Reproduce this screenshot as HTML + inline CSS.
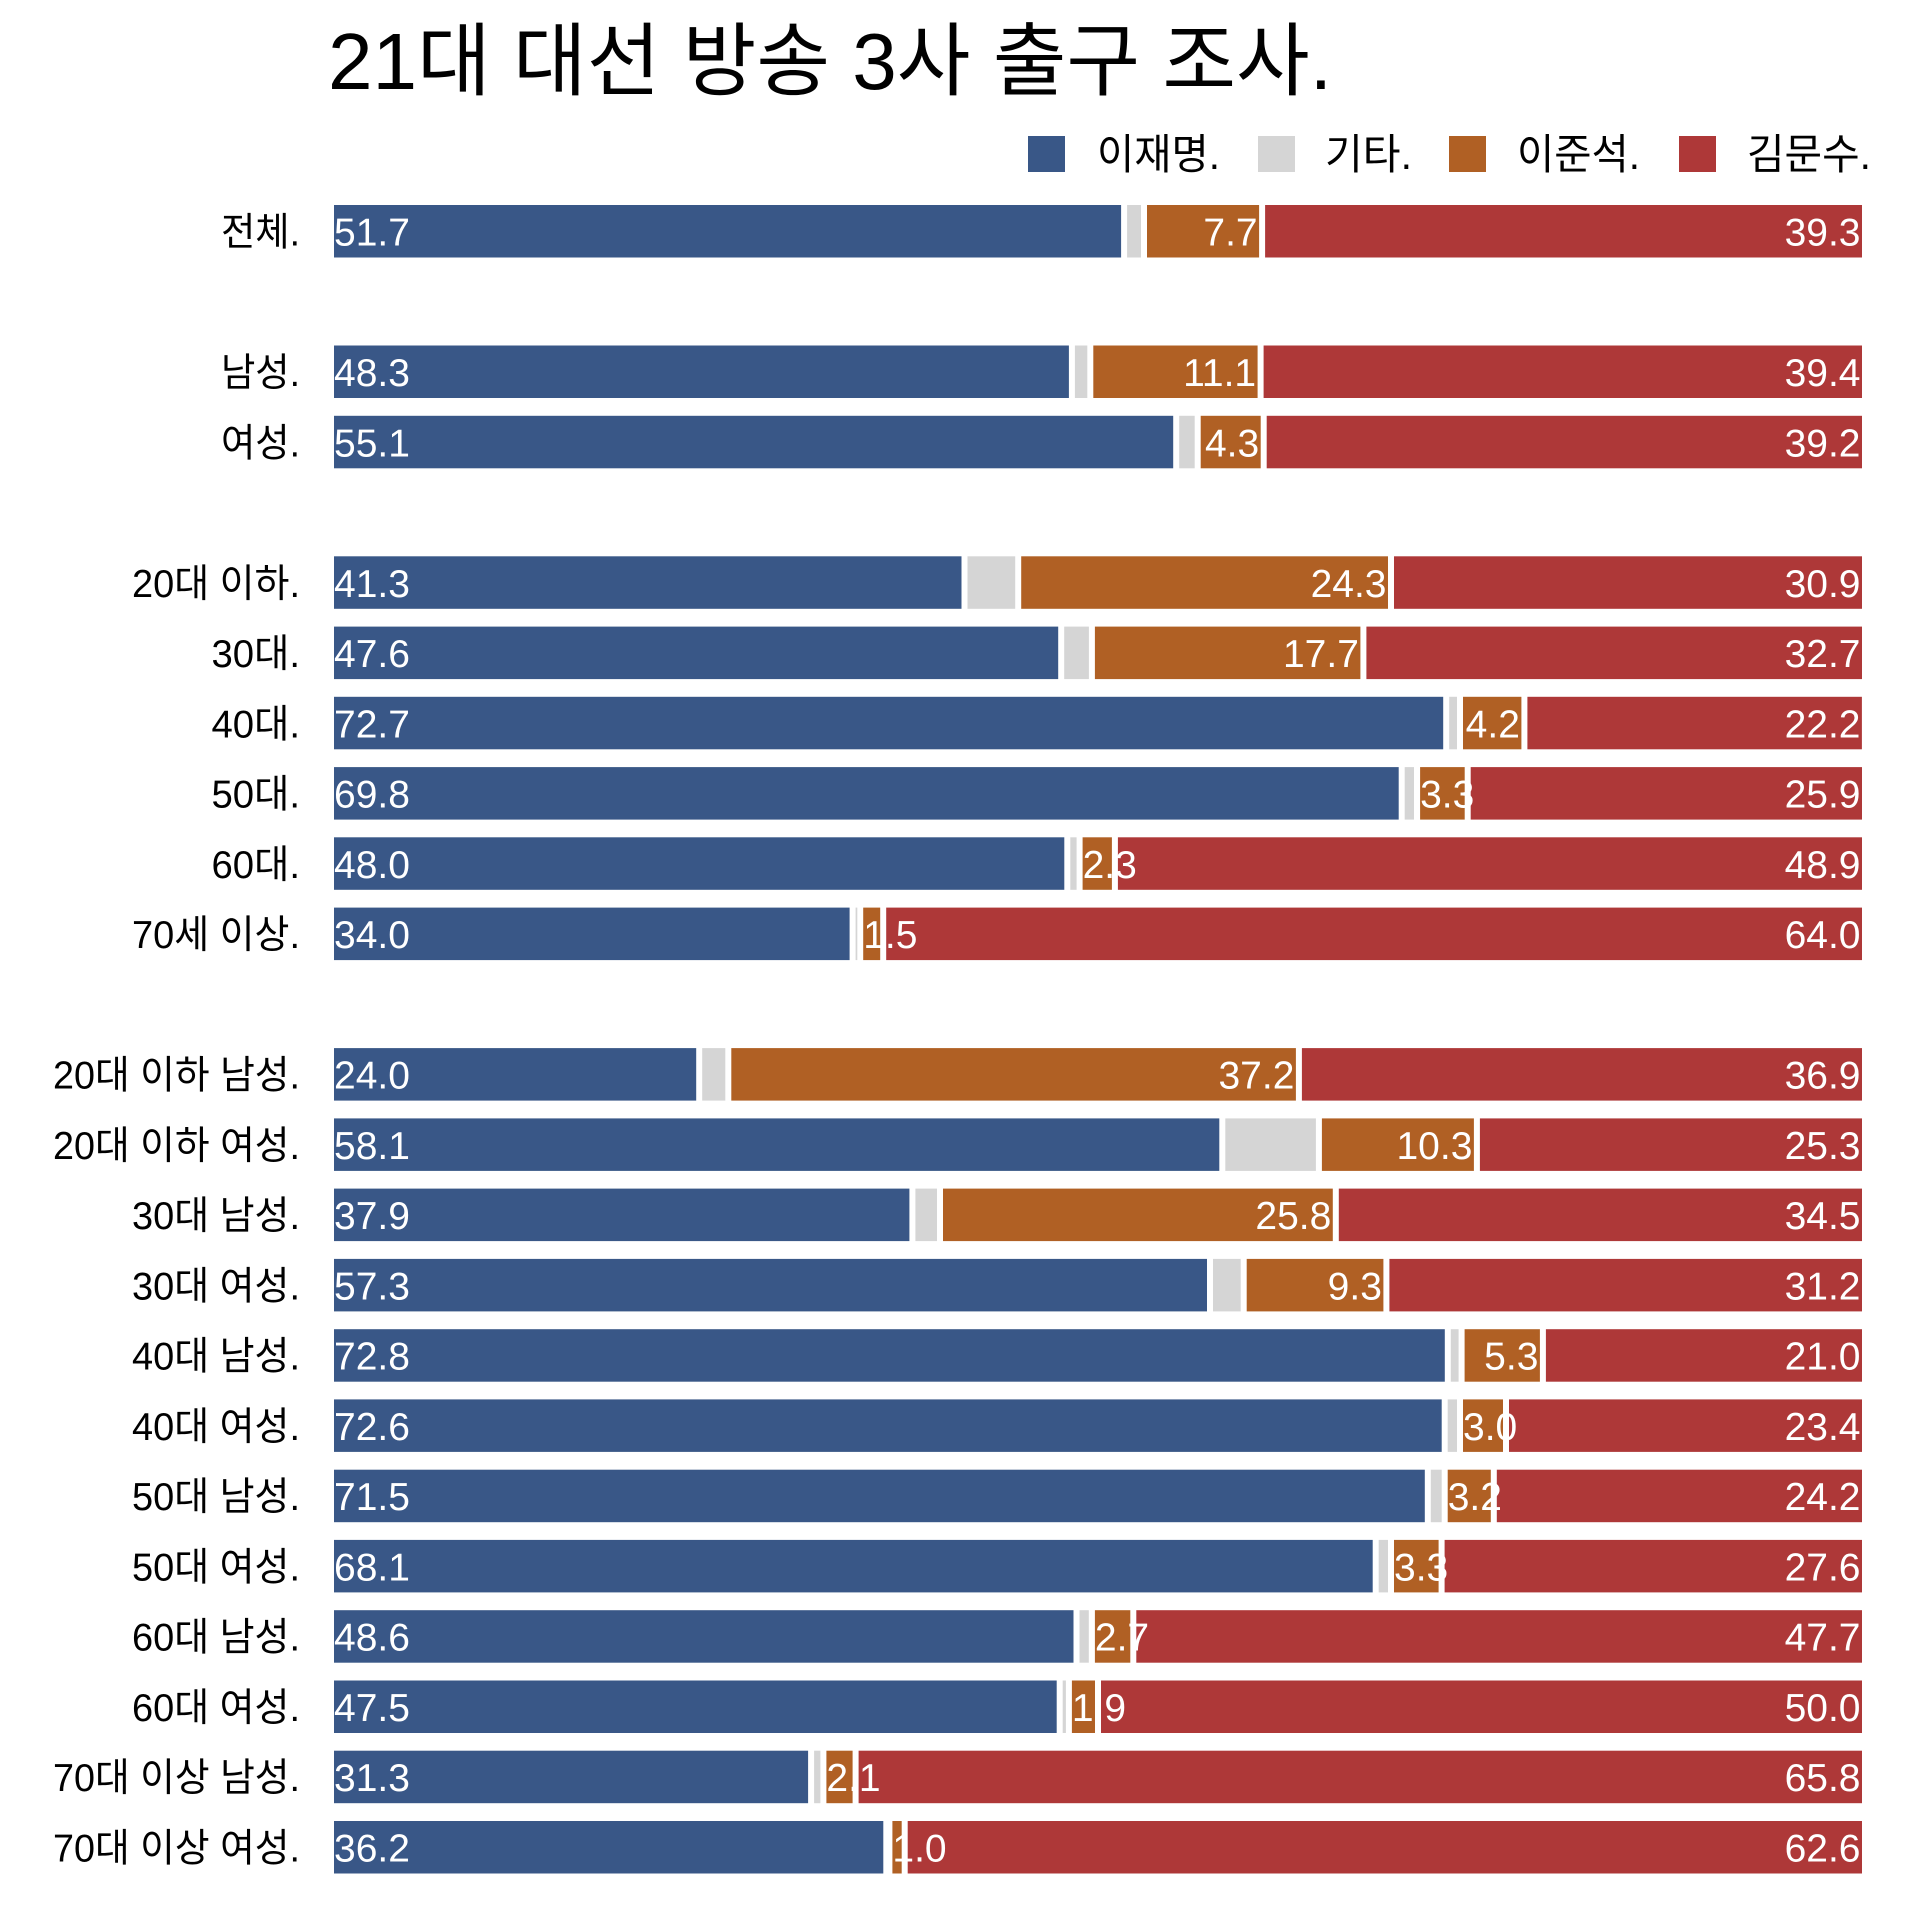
<!DOCTYPE html>
<html><head><meta charset="utf-8">
<style>
html,body{margin:0;padding:0;background:#fff;}
svg{display:block;}
text{font-family:"Liberation Sans","Noto Sans CJK KR",sans-serif;}
.v{font-size:39px;fill:#fff;}
.l{font-size:39px;fill:#000;}
.b{fill:#395787;}
.g{fill:#d5d5d5;}
.o{fill:#b06024;}
.r{fill:#ae3838;}
</style></head>
<body>
<svg width="1920" height="1920" viewBox="0 0 1920 1920" xmlns="http://www.w3.org/2000/svg">
<rect width="1920" height="1920" fill="#fff"/>
<text x="328" y="89" font-size="80" textLength="1004" lengthAdjust="spacingAndGlyphs" fill="#000">21대 대선 방송 3사 출구 조사.</text>

<!-- legend -->
<rect class="b" x="1028" y="136" width="37" height="36"/>
<text x="1097" y="169" font-size="42" textLength="123" lengthAdjust="spacingAndGlyphs">이재명.</text>
<rect class="g" x="1258" y="136" width="37" height="36"/>
<text x="1325" y="169" font-size="42" textLength="87" lengthAdjust="spacingAndGlyphs">기타.</text>
<rect class="o" x="1449" y="136" width="37" height="36"/>
<text x="1517" y="169" font-size="42" textLength="123" lengthAdjust="spacingAndGlyphs">이준석.</text>
<rect class="r" x="1679" y="136" width="37" height="36"/>
<text x="1747" y="169" font-size="42" textLength="124" lengthAdjust="spacingAndGlyphs">김문수.</text>

<!-- 전체 -->
<g transform="translate(0,205)">
<rect class="b" x="334" y="0" width="787.1" height="52.5"/>
<rect class="g" x="1127.1" y="0" width="13.9" height="52.5"/>
<rect class="o" x="1147.0" y="0" width="112.1" height="52.5"/>
<rect class="r" x="1265.1" y="0" width="596.9" height="52.5"/>
<text class="l" x="300" y="40.5" text-anchor="end" textLength="79" lengthAdjust="spacingAndGlyphs">전체.</text>
<text class="v" x="334" y="40.5">51.7</text>
<text class="v" x="1257.6" y="40.5" text-anchor="end">7.7</text>
<text class="v" x="1860.5" y="40.5" text-anchor="end">39.3</text>
</g>

<!-- 남성 -->
<g transform="translate(0,345.5)">
<rect class="b" x="334" y="0" width="734.9" height="52.5"/>
<rect class="g" x="1074.9" y="0" width="12.4" height="52.5"/>
<rect class="o" x="1093.3" y="0" width="164.3" height="52.5"/>
<rect class="r" x="1263.6" y="0" width="598.4" height="52.5"/>
<text class="l" x="300" y="40.5" text-anchor="end" textLength="79" lengthAdjust="spacingAndGlyphs">남성.</text>
<text class="v" x="334" y="40.5">48.3</text>
<text class="v" x="1256.1" y="40.5" text-anchor="end">11.1</text>
<text class="v" x="1860.5" y="40.5" text-anchor="end">39.4</text>
</g>

<!-- 여성 -->
<g transform="translate(0,415.8)">
<rect class="b" x="334" y="0" width="839.2" height="52.5"/>
<rect class="g" x="1179.2" y="0" width="15.5" height="52.5"/>
<rect class="o" x="1200.7" y="0" width="60.0" height="52.5"/>
<rect class="r" x="1266.7" y="0" width="595.3" height="52.5"/>
<text class="l" x="300" y="40.5" text-anchor="end" textLength="79" lengthAdjust="spacingAndGlyphs">여성.</text>
<text class="v" x="334" y="40.5">55.1</text>
<text class="v" x="1259.2" y="40.5" text-anchor="end">4.3</text>
<text class="v" x="1860.5" y="40.5" text-anchor="end">39.2</text>
</g>

<!-- 20대 이하 -->
<g transform="translate(0,556.3)">
<rect class="b" x="334" y="0" width="627.5" height="52.5"/>
<rect class="g" x="967.5" y="0" width="47.7" height="52.5"/>
<rect class="o" x="1021.2" y="0" width="366.8" height="52.5"/>
<rect class="r" x="1394.0" y="0" width="468.0" height="52.5"/>
<text class="l" x="300" y="40.5" text-anchor="end" textLength="168" lengthAdjust="spacingAndGlyphs">20대 이하.</text>
<text class="v" x="334" y="40.5">41.3</text>
<text class="v" x="1386.5" y="40.5" text-anchor="end">24.3</text>
<text class="v" x="1860.5" y="40.5" text-anchor="end">30.9</text>
</g>

<!-- 30대 -->
<g transform="translate(0,626.6)">
<rect class="b" x="334" y="0" width="724.2" height="52.5"/>
<rect class="g" x="1064.2" y="0" width="24.7" height="52.5"/>
<rect class="o" x="1094.9" y="0" width="265.5" height="52.5"/>
<rect class="r" x="1366.4" y="0" width="495.6" height="52.5"/>
<text class="l" x="300" y="40.5" text-anchor="end" textLength="88.5" lengthAdjust="spacingAndGlyphs">30대.</text>
<text class="v" x="334" y="40.5">47.6</text>
<text class="v" x="1358.9" y="40.5" text-anchor="end">17.7</text>
<text class="v" x="1860.5" y="40.5" text-anchor="end">32.7</text>
</g>

<!-- 40대 -->
<g transform="translate(0,696.8)">
<rect class="b" x="334" y="0" width="1109.2" height="52.5"/>
<rect class="g" x="1449.2" y="0" width="7.8" height="52.5"/>
<rect class="o" x="1463.0" y="0" width="58.4" height="52.5"/>
<rect class="r" x="1527.4" y="0" width="334.5" height="52.5"/>
<text class="l" x="300" y="40.5" text-anchor="end" textLength="88.5" lengthAdjust="spacingAndGlyphs">40대.</text>
<text class="v" x="334" y="40.5">72.7</text>
<text class="v" x="1519.9" y="40.5" text-anchor="end">4.2</text>
<text class="v" x="1860.5" y="40.5" text-anchor="end">22.2</text>
</g>

<!-- 50대 -->
<g transform="translate(0,767.1)">
<rect class="b" x="334" y="0" width="1064.7" height="52.5"/>
<rect class="g" x="1404.7" y="0" width="9.3" height="52.5"/>
<rect class="o" x="1420.1" y="0" width="44.6" height="52.5"/>
<rect class="r" x="1470.7" y="0" width="391.3" height="52.5"/>
<text class="l" x="300" y="40.5" text-anchor="end" textLength="88.5" lengthAdjust="spacingAndGlyphs">50대.</text>
<text class="v" x="334" y="40.5">69.8</text>
<text class="v" x="1420.1" y="40.5">3.3</text>
<text class="v" x="1860.5" y="40.5" text-anchor="end">25.9</text>
</g>

<!-- 60대 -->
<g transform="translate(0,837.3)">
<rect class="b" x="334" y="0" width="730.3" height="52.5"/>
<rect class="g" x="1070.3" y="0" width="6.3" height="52.5"/>
<rect class="o" x="1082.6" y="0" width="29.3" height="52.5"/>
<rect class="r" x="1117.9" y="0" width="744.1" height="52.5"/>
<text class="l" x="300" y="40.5" text-anchor="end" textLength="88.5" lengthAdjust="spacingAndGlyphs">60대.</text>
<text class="v" x="334" y="40.5">48.0</text>
<text class="v" x="1082.6" y="40.5">2.3</text>
<text class="v" x="1860.5" y="40.5" text-anchor="end">48.9</text>
</g>

<!-- 70세 이상 -->
<g transform="translate(0,907.6)">
<rect class="b" x="334" y="0" width="515.6" height="52.5"/>
<rect class="g" x="855.6" y="0" width="1.7" height="52.5"/>
<rect class="o" x="863.2" y="0" width="17.0" height="52.5"/>
<rect class="r" x="886.2" y="0" width="975.8" height="52.5"/>
<text class="l" x="300" y="40.5" text-anchor="end" textLength="168" lengthAdjust="spacingAndGlyphs">70세 이상.</text>
<text class="v" x="334" y="40.5">34.0</text>
<text class="v" x="863.2" y="40.5">1.5</text>
<text class="v" x="1860.5" y="40.5" text-anchor="end">64.0</text>
</g>

<!-- 20대 이하 남성 -->
<g transform="translate(0,1048.1)">
<rect class="b" x="334" y="0" width="362.2" height="52.5"/>
<rect class="g" x="702.2" y="0" width="23.1" height="52.5"/>
<rect class="o" x="731.3" y="0" width="564.6" height="52.5"/>
<rect class="r" x="1301.9" y="0" width="560.1" height="52.5"/>
<text class="l" x="300" y="40.5" text-anchor="end" textLength="247" lengthAdjust="spacingAndGlyphs">20대 이하 남성.</text>
<text class="v" x="334" y="40.5">24.0</text>
<text class="v" x="1294.4" y="40.5" text-anchor="end">37.2</text>
<text class="v" x="1860.5" y="40.5" text-anchor="end">36.9</text>
</g>

<!-- 20대 이하 여성 -->
<g transform="translate(0,1118.4)">
<rect class="b" x="334" y="0" width="885.3" height="52.5"/>
<rect class="g" x="1225.3" y="0" width="90.6" height="52.5"/>
<rect class="o" x="1321.9" y="0" width="152.0" height="52.5"/>
<rect class="r" x="1479.9" y="0" width="382.1" height="52.5"/>
<text class="l" x="300" y="40.5" text-anchor="end" textLength="247" lengthAdjust="spacingAndGlyphs">20대 이하 여성.</text>
<text class="v" x="334" y="40.5">58.1</text>
<text class="v" x="1472.4" y="40.5" text-anchor="end">10.3</text>
<text class="v" x="1860.5" y="40.5" text-anchor="end">25.3</text>
</g>

<!-- 30대 남성 -->
<g transform="translate(0,1188.6)">
<rect class="b" x="334" y="0" width="575.4" height="52.5"/>
<rect class="g" x="915.4" y="0" width="21.6" height="52.5"/>
<rect class="o" x="943.0" y="0" width="389.8" height="52.5"/>
<rect class="r" x="1338.8" y="0" width="523.2" height="52.5"/>
<text class="l" x="300" y="40.5" text-anchor="end" textLength="168" lengthAdjust="spacingAndGlyphs">30대 남성.</text>
<text class="v" x="334" y="40.5">37.9</text>
<text class="v" x="1331.3" y="40.5" text-anchor="end">25.8</text>
<text class="v" x="1860.5" y="40.5" text-anchor="end">34.5</text>
</g>

<!-- 30대 여성 -->
<g transform="translate(0,1258.9)">
<rect class="b" x="334" y="0" width="873.0" height="52.5"/>
<rect class="g" x="1213.0" y="0" width="27.7" height="52.5"/>
<rect class="o" x="1246.7" y="0" width="136.7" height="52.5"/>
<rect class="r" x="1389.4" y="0" width="472.6" height="52.5"/>
<text class="l" x="300" y="40.5" text-anchor="end" textLength="168" lengthAdjust="spacingAndGlyphs">30대 여성.</text>
<text class="v" x="334" y="40.5">57.3</text>
<text class="v" x="1381.9" y="40.5" text-anchor="end">9.3</text>
<text class="v" x="1860.5" y="40.5" text-anchor="end">31.2</text>
</g>

<!-- 40대 남성 -->
<g transform="translate(0,1329.2)">
<rect class="b" x="334" y="0" width="1110.8" height="52.5"/>
<rect class="g" x="1450.8" y="0" width="7.8" height="52.5"/>
<rect class="o" x="1464.6" y="0" width="75.3" height="52.5"/>
<rect class="r" x="1545.9" y="0" width="316.1" height="52.5"/>
<text class="l" x="300" y="40.5" text-anchor="end" textLength="168" lengthAdjust="spacingAndGlyphs">40대 남성.</text>
<text class="v" x="334" y="40.5">72.8</text>
<text class="v" x="1538.4" y="40.5" text-anchor="end">5.3</text>
<text class="v" x="1860.5" y="40.5" text-anchor="end">21.0</text>
</g>

<!-- 40대 여성 -->
<g transform="translate(0,1399.4)">
<rect class="b" x="334" y="0" width="1107.7" height="52.5"/>
<rect class="g" x="1447.7" y="0" width="9.3" height="52.5"/>
<rect class="o" x="1463.0" y="0" width="40.0" height="52.5"/>
<rect class="r" x="1509.0" y="0" width="353.0" height="52.5"/>
<text class="l" x="300" y="40.5" text-anchor="end" textLength="168" lengthAdjust="spacingAndGlyphs">40대 여성.</text>
<text class="v" x="334" y="40.5">72.6</text>
<text class="v" x="1463.0" y="40.5">3.0</text>
<text class="v" x="1860.5" y="40.5" text-anchor="end">23.4</text>
</g>

<!-- 50대 남성 -->
<g transform="translate(0,1469.7)">
<rect class="b" x="334" y="0" width="1090.8" height="52.5"/>
<rect class="g" x="1430.8" y="0" width="10.9" height="52.5"/>
<rect class="o" x="1447.7" y="0" width="43.1" height="52.5"/>
<rect class="r" x="1496.8" y="0" width="365.2" height="52.5"/>
<text class="l" x="300" y="40.5" text-anchor="end" textLength="168" lengthAdjust="spacingAndGlyphs">50대 남성.</text>
<text class="v" x="334" y="40.5">71.5</text>
<text class="v" x="1447.7" y="40.5">3.2</text>
<text class="v" x="1860.5" y="40.5" text-anchor="end">24.2</text>
</g>

<!-- 50대 여성 -->
<g transform="translate(0,1539.9)">
<rect class="b" x="334" y="0" width="1038.7" height="52.5"/>
<rect class="g" x="1378.7" y="0" width="9.3" height="52.5"/>
<rect class="o" x="1394.0" y="0" width="44.6" height="52.5"/>
<rect class="r" x="1444.6" y="0" width="417.4" height="52.5"/>
<text class="l" x="300" y="40.5" text-anchor="end" textLength="168" lengthAdjust="spacingAndGlyphs">50대 여성.</text>
<text class="v" x="334" y="40.5">68.1</text>
<text class="v" x="1394.0" y="40.5">3.3</text>
<text class="v" x="1860.5" y="40.5" text-anchor="end">27.6</text>
</g>

<!-- 60대 남성 -->
<g transform="translate(0,1610.2)">
<rect class="b" x="334" y="0" width="739.5" height="52.5"/>
<rect class="g" x="1079.5" y="0" width="9.3" height="52.5"/>
<rect class="o" x="1094.9" y="0" width="35.4" height="52.5"/>
<rect class="r" x="1136.3" y="0" width="725.7" height="52.5"/>
<text class="l" x="300" y="40.5" text-anchor="end" textLength="168" lengthAdjust="spacingAndGlyphs">60대 남성.</text>
<text class="v" x="334" y="40.5">48.6</text>
<text class="v" x="1094.9" y="40.5">2.7</text>
<text class="v" x="1860.5" y="40.5" text-anchor="end">47.7</text>
</g>

<!-- 60대 여성 -->
<g transform="translate(0,1680.5)">
<rect class="b" x="334" y="0" width="722.7" height="52.5"/>
<rect class="g" x="1062.7" y="0" width="3.2" height="52.5"/>
<rect class="o" x="1071.9" y="0" width="23.1" height="52.5"/>
<rect class="r" x="1101.0" y="0" width="761.0" height="52.5"/>
<text class="l" x="300" y="40.5" text-anchor="end" textLength="168" lengthAdjust="spacingAndGlyphs">60대 여성.</text>
<text class="v" x="334" y="40.5">47.5</text>
<text class="v" x="1071.9" y="40.5">1.9</text>
<text class="v" x="1860.5" y="40.5" text-anchor="end">50.0</text>
</g>

<!-- 70대 이상 남성 -->
<g transform="translate(0,1750.7)">
<rect class="b" x="334" y="0" width="474.1" height="52.5"/>
<rect class="g" x="814.1" y="0" width="6.3" height="52.5"/>
<rect class="o" x="826.4" y="0" width="26.2" height="52.5"/>
<rect class="r" x="858.6" y="0" width="1003.4" height="52.5"/>
<text class="l" x="300" y="40.5" text-anchor="end" textLength="247" lengthAdjust="spacingAndGlyphs">70대 이상 남성.</text>
<text class="v" x="334" y="40.5">31.3</text>
<text class="v" x="826.4" y="40.5">2.1</text>
<text class="v" x="1860.5" y="40.5" text-anchor="end">65.8</text>
</g>

<!-- 70대 이상 여성 -->
<g transform="translate(0,1821.0)">
<rect class="b" x="334" y="0" width="549.3" height="52.5"/>
<rect class="o" x="892.4" y="0" width="9.3" height="52.5"/>
<rect class="r" x="907.7" y="0" width="954.3" height="52.5"/>
<text class="l" x="300" y="40.5" text-anchor="end" textLength="247" lengthAdjust="spacingAndGlyphs">70대 이상 여성.</text>
<text class="v" x="334" y="40.5">36.2</text>
<text class="v" x="892.4" y="40.5">1.0</text>
<text class="v" x="1860.5" y="40.5" text-anchor="end">62.6</text>
</g>
</svg>
</body></html>
